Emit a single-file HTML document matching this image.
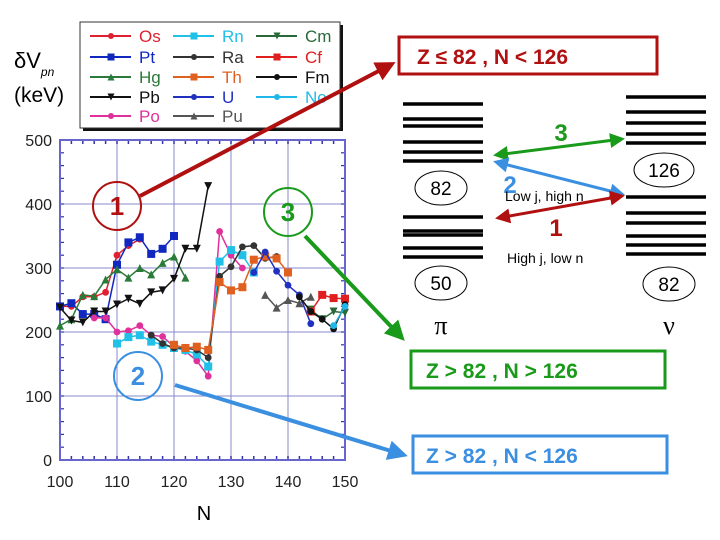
<!DOCTYPE html>
<html><head><meta charset="utf-8"><style>
body{margin:0;background:#fff}
svg{display:block;font-family:"Liberation Sans",sans-serif}
</style></head><body>
<svg id="s" width="720" height="540" viewBox="0 0 720 540">
<defs>
<marker id="ar" markerWidth="8" markerHeight="8" refX="6" refY="4" orient="auto-start-reverse" markerUnits="strokeWidth"><path d="M0,0 L8,4 L0,8 Z" fill="context-stroke"/></marker>
<marker id="arR" markerWidth="5" markerHeight="5" refX="4" refY="2.5" orient="auto-start-reverse"><path d="M0,0 L5,2.5 L0,5 Z" fill="#b01010"/></marker>
<marker id="arG" markerWidth="5" markerHeight="5" refX="4" refY="2.5" orient="auto-start-reverse"><path d="M0,0 L5,2.5 L0,5 Z" fill="#1a9a1a"/></marker>
<marker id="arB" markerWidth="5" markerHeight="5" refX="4" refY="2.5" orient="auto-start-reverse"><path d="M0,0 L5,2.5 L0,5 Z" fill="#3b8fe0"/></marker>
</defs>
<g id="plot"></g>
<text x="14" y="68" font-size="22">δV<tspan font-size="12" font-style="italic" dy="8">pn</tspan></text>
<text x="14" y="102" font-size="21">(keV)</text>
<text x="204" y="520" font-size="20" text-anchor="middle">N</text>
<g>
<rect x="83" y="25" width="260" height="106" fill="#111"/>
<rect x="80" y="22" width="260" height="106" fill="#fff" stroke="#333" stroke-width="1"/>
<g id="leg"></g>
</g>
<!-- annotations -->
<line x1="140" y1="196" x2="392" y2="64" stroke="#b01010" stroke-width="4" marker-end="url(#arR)"/>
<line x1="305" y1="236" x2="402" y2="338" stroke="#1a9a1a" stroke-width="4" marker-end="url(#arG)"/>
<line x1="175" y1="385" x2="404" y2="455" stroke="#3b8fe0" stroke-width="4" marker-end="url(#arB)"/>
<circle cx="117" cy="206" r="24" fill="none" stroke="#b01010" stroke-width="2"/>
<text x="117" y="215" font-size="26" font-weight="bold" fill="#b01010" text-anchor="middle">1</text>
<circle cx="288" cy="212" r="24" fill="none" stroke="#1a9a1a" stroke-width="2"/>
<text x="288" y="221" font-size="26" font-weight="bold" fill="#1a9a1a" text-anchor="middle">3</text>
<circle cx="138" cy="376" r="24" fill="none" stroke="#3b8fe0" stroke-width="2"/>
<text x="138" y="385" font-size="26" font-weight="bold" fill="#3b8fe0" text-anchor="middle">2</text>
<rect x="399" y="37" width="258" height="37" fill="#fff" stroke="#b01010" stroke-width="3"/>
<text x="417" y="64" font-size="21" font-weight="bold" fill="#b01010">Z ≤ 82 , N &lt; 126</text>
<rect x="411" y="351" width="254" height="37" fill="#fff" stroke="#1a9a1a" stroke-width="3"/>
<text x="426" y="378" font-size="21" font-weight="bold" fill="#1a9a1a">Z &gt; 82 , N &gt; 126</text>
<rect x="413" y="436" width="254" height="37" fill="#fff" stroke="#3b8fe0" stroke-width="3"/>
<text x="426" y="463" font-size="21" font-weight="bold" fill="#3b8fe0">Z &gt; 82 , N &lt; 126</text>
<g id="levels"></g>
<ellipse cx="441" cy="188" rx="26" ry="17" fill="none" stroke="#000"/>
<text x="441" y="195" font-size="19" text-anchor="middle">82</text>
<ellipse cx="441" cy="283" rx="26" ry="17" fill="none" stroke="#000"/>
<text x="441" y="290" font-size="19" text-anchor="middle">50</text>
<ellipse cx="664" cy="170" rx="30" ry="17" fill="none" stroke="#000"/>
<text x="664" y="177" font-size="19" text-anchor="middle">126</text>
<ellipse cx="669" cy="284" rx="26" ry="17" fill="none" stroke="#000"/>
<text x="669" y="291" font-size="19" text-anchor="middle">82</text>
<text x="441" y="334" font-size="26" font-family="Liberation Serif,serif" text-anchor="middle">π</text>
<text x="669" y="334" font-size="26" font-family="Liberation Serif,serif" text-anchor="middle">ν</text>
<line x1="496" y1="155" x2="622" y2="139" stroke="#1a9a1a" stroke-width="3" marker-start="url(#arG)" marker-end="url(#arG)"/>
<line x1="496" y1="162" x2="622" y2="194" stroke="#3b8fe0" stroke-width="3" marker-start="url(#arB)" marker-end="url(#arB)"/>
<line x1="498" y1="218" x2="622" y2="196" stroke="#b01010" stroke-width="3" marker-start="url(#arR)" marker-end="url(#arR)"/>
<text x="561" y="141" font-size="24" font-weight="bold" fill="#1a9a1a" text-anchor="middle">3</text>
<text x="510" y="193" font-size="24" font-weight="bold" fill="#3b8fe0" text-anchor="middle">2</text>
<text x="556" y="236" font-size="24" font-weight="bold" fill="#b01010" text-anchor="middle">1</text>
<text x="505" y="201" font-size="14">Low j, high n</text>
<text x="507" y="263" font-size="14">High j, low n</text>
</svg>
<script>
const NS="http://www.w3.org/2000/svg";
const xTicks=[100,110,120,130,140,150];
const yTicks=[0,100,200,300,400,500];
const seriesNames=["Os","Pt","Hg","Pb","Po","Rn","Ra","Th","U","Pu","Cm","Cf","Fm","No"];
const OsN=[100,102,104,106,108,110,112,114];
const OsV=[240,240,255,255,262,320,335,345];
const PtN=[100,102,104,106,108,110,112,114,116,118,120];
const PtV=[240,245,228,228,220,305,340,348,322,330,350];
const HgN=[100,102,104,106,108,110,112,114,116,118,120,122];
const HgV=[210,220,258,256,282,298,285,300,290,308,318,285];
const PbN=[100,102,104,106,108,110,112,114,116,118,120,122,124,126];
const PbV=[238,218,215,232,232,243,252,244,262,265,283,330,330,428];
const PoN=[106,108,110,112,114,116,118,120,122,124,126,128,130,132];
const PoV=[222,222,200,202,210,195,193,177,170,155,131,357,320,300];
const RnN=[110,112,114,116,118,120,122,124,126,128,130,132,134];
const RnV=[182,192,195,185,180,175,172,165,146,310,328,320,293];
const RaN=[116,118,120,122,124,126,128,130,132,134,136,138];
const RaV=[195,182,175,175,172,160,287,302,333,335,315,318];
const ThN=[120,122,124,126,128,130,132,134,136,138,140];
const ThV=[180,175,177,172,278,265,270,313,318,315,293];
const UN=[134,136,138,140,142,144];
const UV=[293,325,295,273,258,213];
const PuN=[136,138,140,142,144];
const PuV=[258,238,250,245,255];
const CmN=[144,146,148,150];
const CmV=[235,220,232,230];
const CfN=[144,146,148,150];
const CfV=[232,258,253,252];
const FmN=[142,144,146,148,150];
const FmV=[255,232,220,205,243];
const NoN=[148,150];
const NoV=[210,240];
const styles={Os:["#e02030","c"],Pt:["#1028c0","s"],Hg:["#2a7a3a","t"],Pb:["#111","v"],Po:["#e0309a","c"],Rn:["#20c0e8","s"],Ra:["#333","c"],Th:["#e06020","s"],U:["#2030c0","c"],Pu:["#555","t"],Cm:["#2a6a3a","v"],Cf:["#e02020","s"],Fm:["#111","c"],No:["#20b8e8","c"]};
const data={Os:[OsN,OsV],Pt:[PtN,PtV],Hg:[HgN,HgV],Pb:[PbN,PbV],Po:[PoN,PoV],Rn:[RnN,RnV],Ra:[RaN,RaV],Th:[ThN,ThV],U:[UN,UV],Pu:[PuN,PuV],Cm:[CmN,CmV],Cf:[CfN,CfV],Fm:[FmN,FmV],No:[NoN,NoV]};
const X0=60,X1=345,Y0=460,Y1=140;
const xs=n=>X0+(n-100)/50*(X1-X0);
const ys=v=>Y0-v/500*(Y0-Y1);
function mk(tag,attrs,parent){const e=document.createElementNS(NS,tag);for(const k in attrs)e.setAttribute(k,attrs[k]);parent.appendChild(e);return e;}
function marker(g,shape,x,y,c,r){
  let e;
  if(shape==="s")e=mk("rect",{x:x-r,y:y-r,width:2*r,height:2*r,fill:c},g);
  else if(shape==="t")e=mk("path",{d:`M${x},${y-r} L${x+r},${y+r} L${x-r},${y+r}Z`,fill:c},g);
  else if(shape==="v")e=mk("path",{d:`M${x},${y+r} L${x+r},${y-r} L${x-r},${y-r}Z`,fill:c},g);
  else e=mk("circle",{cx:x,cy:y,r:r*0.85,fill:c},g);
  return e;
}
const plot=document.getElementById("plot");
// grid & axes
for(const t of xTicks){
  const l=mk("line",{x1:xs(t),x2:xs(t),y1:Y1,y2:Y0,stroke:"#8888cc","stroke-width":1},plot);
  
  
  const tx=mk("text",{x:xs(t),y:487,"font-size":16,"text-anchor":"middle",fill:"#222"},plot);
  tx.textContent=t;
  
  
}
for(const t of yTicks){
  const l=mk("line",{x1:X0,x2:X1,y1:ys(t),y2:ys(t),stroke:"#8888cc","stroke-width":1},plot);
  
  
  const tx=mk("text",{x:52,y:ys(t)+6,"font-size":16,"text-anchor":"end",fill:"#222"},plot);
  tx.textContent=t;
  
  
}
for(let n=100;n<=150;n+=2){for(const [y,d] of [[Y0,-4],[Y1,4]]){const l=mk("line",{x1:xs(n),x2:xs(n),y1:y,y2:y+d,stroke:"#3333aa","stroke-width":1.5},plot);}}
for(let v=0;v<=500;v+=20){for(const [x,d] of [[X0,4],[X1,-4]]){const l=mk("line",{x1:x,x2:x+d,y1:ys(v),y2:ys(v),stroke:"#3333aa","stroke-width":1.2},plot);}}
const fr=mk("rect",{x:X0,y:Y1,width:X1-X0,height:Y0-Y1,fill:"none",stroke:"#6666cc","stroke-width":2},plot);


for(const nm of seriesNames){
  const [N,V]=data[nm];const [c,sh]=styles[nm];
  const g=mk("g",{},plot);
  
  
  const pl=mk("polyline",{points:N.map((n,i)=>xs(n)+","+ys(V[i])).join(" "),fill:"none",stroke:c,"stroke-width":1.5},g);
  
  
  N.forEach((n,i)=>{
    const m=marker(g,sh,xs(n),ys(V[i]),c,4);
    
    
  });
}
// legend
const leg=document.getElementById("leg");
const cols=[[90,139],[173,222],[256,305]];
const rows=[36,57,77,97,116];
const legOrder=[["Os","Pt","Hg","Pb","Po"],["Rn","Ra","Th","U","Pu"],["Cm","Cf","Fm","No"]];
legOrder.forEach((col,ci)=>col.forEach((nm,ri)=>{
  const [c,sh]=styles[nm];const y=rows[ri];const [lx,tx]=cols[ci];
  const g=mk("g",{},leg);
  
  
  mk("line",{x1:lx,x2:lx+41,y1:y,y2:y,stroke:c,"stroke-width":2},g);
  marker(g,sh,lx+21,y,c,3.5);
  const t=mk("text",{x:tx,y:y+6,"font-size":17,fill:c},g);
  t.textContent=nm;
}));
// level diagram
const lev=document.getElementById("levels");
const L1=[104,119,126,142,152,161,217,231,235,248,257];
const R1=[97,112,123,134,143,197,213,223,236,245,254];
L1.forEach(y=>{const l=mk("line",{x1:403,x2:483,y1:y,y2:y,stroke:"#000","stroke-width":3.5},lev);});
R1.forEach(y=>{const l=mk("line",{x1:626,x2:706,y1:y,y2:y,stroke:"#000","stroke-width":3.5},lev);});
</script>
</body></html>
